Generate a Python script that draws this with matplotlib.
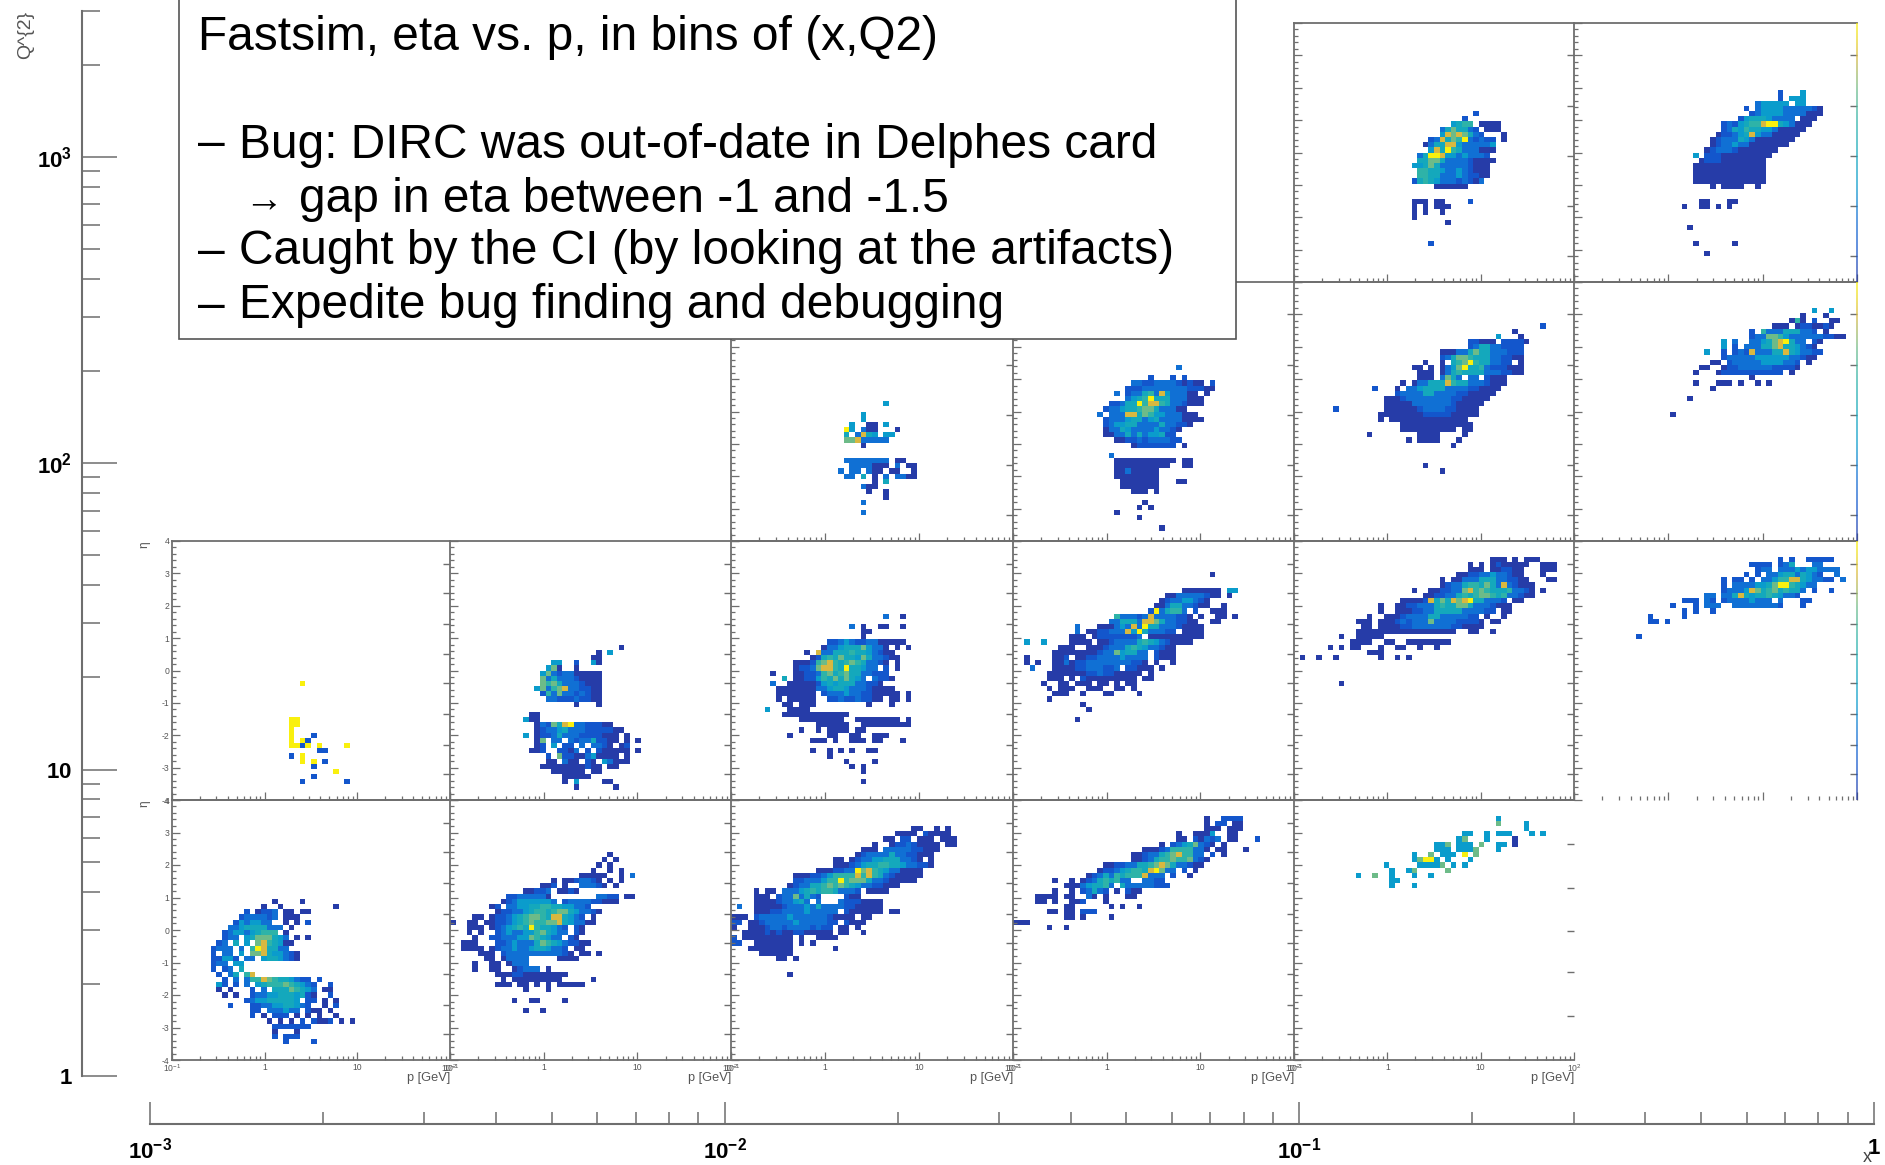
import numpy as np
import matplotlib
matplotlib.use("Agg")
import matplotlib.pyplot as plt
from matplotlib.colors import ListedColormap, BoundaryNorm, LinearSegmentedColormap
from matplotlib.patches import Rectangle
from matplotlib.ticker import FixedLocator, FixedFormatter, NullFormatter

plt.rcParams['font.family'] = ['Liberation Sans', 'DejaVu Sans']
plt.rcParams['mathtext.fontset'] = 'custom'
plt.rcParams['mathtext.rm'] = 'Liberation Sans'
plt.rcParams['mathtext.bf'] = 'Liberation Sans:bold'

W, H = 1885, 1165

# ---- cell data: "row startcol levels" (row from top of 50, col from left of 50, level 1-9, '.' empty)
R0C4 = ["17 32 2", "18 30 2", "19 28 4566.1111", "20 26 3575532.111", "21 26 48787532...1",
        "22 24 238576932322.1", "23 23 1355884333334", "24 24 485965333111", "25 22 3599844343332",
        "26 22 55775333321111", "27 21 44575333332111", "28 22 6655433432111", "29 22 6655333432211",
        "30 21 2565433323213", "31 25 111111", "34 21 111.11....2", "35 21 1.1.111", "36 21 1.1..1", "37 21 1",
        "38 27 1", "42 24 2"]
R0C5 = ["13 36 2...4", "14 36 2.444", "15 32 344444.44", "16 30 2.344443333321", "17 31 2344443333111",
        "18 29 2455543333.111", "19 26 2324566899543111", "20 26 235465544311111", "21 25 122345843311111",
        "22 24 123335431111111", "23 24 12334331111111", "24 23 1233321111111", "25 21 4.222111111111",
        "26 22 122211111111", "27 21 1111111111111", "28 21 1111111111111", "29 21 1111111111111",
        "30 21 1111111111111", "31 24 1.1111..1", "34 22 11...11", "35 19 1..11.1.1", "39 20 1", "42 21 1......1",
        "44 23 1"]
R1C2 = ["23 27 4", "25 23 4", "26 23 4", "27 21 4..11.4", "28 20 94.311...1", "29 20 5.3854.44", "30 20 77833333",
        "31 23 1", "34 20 33333333.11", "35 20 .3333111.3.11", "36 19 3.33.311.11..1", "37 20 33.5.1.3.3311",
        "38 25 1.5", "39 23 311", "40 24 1..1", "41 27 1", "42 23 3", "44 23 3"]
R1C3 = ["16 29 3", "18 24 2...2.2", "19 21 3322333321211.2", "20 20 2223333333322211", "21 18 3.2335638433311 1",
        "22 20 34569555333111", "23 17 22355968865332111", "24 16 233455677533311", "25 15 3.3338857644333111",
        "26 16 233345534533331111", "27 16 2344553333533221", "28 16 13354333343321", "29 16 1133535344522",
        "30 18 112232333322", "31 21 12222222.1", "33 17 3", "34 18 11111111111.11", "35 18 1111111111..11",
        "36 18 11311111", "37 18 11111111", "38 19 1111111...11", "39 19 1111111", "40 21 111.1", "42 23 1",
        "43 22 1.1", "44 18 1", "45 22 1", "47 26 1"]
R1C4 = ["8 44 2", "9 39 1", "10 36 4...1", "11 31 22111.22221", "12 31 2355332222", "13 26 111335755333222",
        "14 26 235776555332211", "15 23 1..1.56796553322 1", "16 21 11.1.134795563222111", "17 22 111.135655553332211",
        "18 22 111.3753 33.2111", "19 19 1.13355586553332111", "20 14 2...1.33455553333221111",
        "21 18 233335533332211111", "22 16 1112333333332211111", "23 16 111113333333211111",
        "24 7 2........11111123333221111", "25 15 111111112222211111", "26 15 1.11111111111111",
        "27 19 1111111111111", "28 19 1111111111.11", "29 13 1........1111....1", "30 20 1.1111...1", "31 28 1", "35 23 1",
        "36 26 1"]
R1C5 = ["5 42 4..4", "6 40 1...1", "7 38 161.2..11", "8 35 111.1221121", "9 31 2.6333555332 1", "10 31 23377643333332211",
        "11 26 4.3..3345789533 21", "12 26 4.2.3335578554321", "13 23 4..2.2328333558543322", "14 26 23333344444433211",
        "15 24 11.2333334444332 1", "16 22 11..12233333322221", "17 21 1...122222222222 1", "18 31 1",
        "19 21 1...111.1..1.1", "20 24 1", "22 20 1", "25 17 1"]
R2C0 = ["27 23 9", "34 21 99", "35 21 99", "36 21 9", "37 21 9...2", "38 21 9.92", "39 21 9929.9....9", "40 26 22", "41 21 2.9",
        "42 23 9.9.2", "43 25 2", "44 29 9", "45 25 2", "46 23 2.......2"]
R2C1 = ["20 30 1", "21 26 1.4", "22 25 11", "23 18 44..2..41", "24 17 471..1", "25 16 47323311111", "26 16 73533321111",
        "27 16 76753332111", "28 15 473678332211", "29 16 26373323211", "30 17 3322232211", "31 22 1...1", "33 14 11",
        "34 13 411", "35 15 13275893322211", "36 15 1233453332222211", "37 13 4.122353332222111.1", "38 15 17 33.323352211 1.1",
        "39 15 12.4.22.3.3321 12", "40 14 112..2213 2.211111 1", "41 16 .2.72211341111 1", "42 15 ..11.311 21.43111",
        "43 16 11111111211.11", "44 18 111111.11", "45 20 11111", "46 20 1.4....11", "47 22 1......1"]
R2C2 = ["14 27 3..1", "16 21 3.1..11..1", "17 23 11", "18 23 1", "19 17 22343223311111", "20 16 133455574331 1.1",
        "21 13 1.83355565543211", "22 14 1256575547533211", "23 11 11126786567653321.1", "24 11 122378865955433 2.1",
        "25 7 1...11223675675533222", "26 9 5.1122465757543 3221", "27 7 3..11111245455533221", "28 8 111111133455433321111",
        "29 8 1111111.23334332211111 1", "30 8 1.11111..2232232211 11.1", "31 9 11.111.........1...1",
        "32 6 4...1111", "33 9 111111111111", "34 12 11111111..11111111.1", "35 15 111111..111111111", "36 11 .1..1.1111.11",
        "37 10 1......11..11..111", "38 14 111.1..111.11...1", "40 14 1..1.1.1..11", "41 17 1", "42 20 1....1", "43 21 1.1",
        "44 23 1", "46 23 1"]
R2C3 = ["6 35 1", "9 30 1111111.44", "10 27 1133333211.1", "11 26 123344321", "12 25 1135533211..1",
        "13 24 2935663 2..111", "14 18 63332383333221 1..11.1", "15 17 3355538875332211..11",
        "16 11 3...1113438395533321111", "17 11 3.1122333849533322 1111", "18 10 111.122222223.1111111111",
        "19 2 4..4....1111.11233335654321111", "20 8 111..1112333565433211", "21 7 11111111233745533 2111",
        "22 2 1....112 1122333343333 2111", "23 2 1.1..11312233333333221 1..1", "24 3 3...111122333223 22111 1",
        "25 6 11111112232211111 1", "26 6 111.1.2111111111 11", "27 5 1..11.111.11.1.11", "28 6 1.111..111..11.1",
        "29 7 111..1...11....1", "30 6 1", "31 12 1", "32 13 1", "34 11 1"]
R2C4 = ["3 35 111.1.111", "4 31 1.1.1211111..111", "5 31 111.112211...111", "6 29 112233433211...1",
        "7 26 1.11333555332211...11", "8 26 12335665753832111", "9 21 1..1122337867655563321 1",
        "10 23 11223356567765633211", "11 19 1111285758789553332 11", "12 15 1..112233356557753332111",
        "13 15 1..111223355555333322 11", "14 13 1..11123333553333322 1..1", "15 11 111.1112323337333322221 11",
        "16 12 11.1111223333333221111", "17 11 111111111111111111..11..1", "18 8 1..11111", "19 10 1111..11..11111111",
        "20 6 1.1.11...1..11..1..1", "21 13 111", "22 1 1..1..1.......1..1.1", "27 8 1"]
R2C5 = ["3 36 2.2..22222", "4 31 2222.235...33", "5 32 233.33343443333", "6 30 2.2.3345535432..3", "7 26 2.22.2.3346688543322 3",
        "8 26 2.333344579965433", "9 26 233348756756553 2..2", "10 23 33.33585455654332", "11 19 222.32.233334333 3...22",
        "12 17 2...2.333..333333332...2", "13 19 2.2..2", "14 13 2.....2", "15 13 22.2", "18 11 2"]
R3C0 = ["19 18 1....1", "20 16 1..1.........1", "21 13 2.1223.11.11", "22 12 2333323.111", "23 11 2434433..1.1.2",
        "24 10 3345555333.1", "25 9 2344345666.1", "26 9 233.45777543.1.1", "27 8 23.5.4.7865411", "28 7 2333.3.6985533",
        "29 7 2.33.4.778544321", "30 7 22442.33.4554321", "31 7 233.44", "32 7 2.23.5", "33 8 2.35.68",
        "34 9 2.3.366876554322.2", "35 8 42.2.3.45666765432..2", "36 8 1.1...2.3.55576543.11", "37 9 1.1..233445554521..2",
        "38 13 2344555554.22.1.1", "39 10 2...22334455432..1.2", "40 14 22.333433.211.1", "41 14 2.1.222.1.1.1..1",
        "42 17 1.1.1.2.2112.1.1", "43 18 2222222", "44 18 1...1", "45 18 2.222", "46 20 2....2"]
R3C1 = ["10 28 1", "11 27 1.1", "12 26 1.1", "13 25 1..1.1", "14 23 11111..1.3", "15 18 1.1123321.1.1",
        "16 16 112.1..33321.1", "17 13 11223.1121", "18 10 22333331........3322 11",
        "19 9 1234444443.2333322111", "20 7 12.334455665544332", "21 8 1223345665677543321", "22 4 11.12234567765885432.1",
        "23 0 1..11.11223456766778543311", "24 3 111.12345659655432 21", "25 3 1.1..2343344675433 21", "26 4 1..2233344765433 21",
        "27 2 111...22343335765432211", "28 2 1111.12334334554332 11", "29 5 111.2333333333321 11.1",
        "30 6 11.13333.....1111", "31 4 1..11.1333", "32 4 1..11..12333 1", "33 8 1112211111111", "34 9 1.111111111.....1",
        "35 8 111.11.1.1.11111", "36 13 1...1", "38 11 1..11....1", "40 13 1..1"]
R3C2 = ["5 32 11..1.1", "6 29 1111.21111", "7 27 11.22.111.111", "8 25 1..122321111 11", "9 23 111.3333322111",
        "10 22 12333353322111", "11 18 11.1233445553321 1", "12 18 111234556655433221", "13 15 1112233978654331111",
        "14 11 11122346666868653211111", "15 11 2233346696777533211111", "16 10 12335567676543322111",
        "17 4 1.11.33345656653332 1111", "18 4 111.23373532....211", "19 4 1111233453.3...32221111",
        "20 1 3..11111233343533332211111", "21 4 111223333433333 2111111 11", "22 0 111.233333433333321111 11",
        "23 0 22.1123333343333322 2111", "24 0 1..111233233332322 11.1", "25 2 1111212112211111.11..1",
        "26 0 2.111111111.1..1111", "27 0 22..1111111.1.1", "28 3 11111111.......1", "29 5 111111", "30 8 11.1", "33 10 1"]
R3C3 = ["3 34 1..2222", "4 34 1.22.11", "5 34 111.111", "6 29 1..1114..11", "7 29 11.21323.11...2", "8 26 1.23457321.1",
        "9 23 111236666331 11...1", "10 21 1123356786633 2.1", "11 21 11235667667321", "12 16 112233556787533211",
        "13 15 12234566589733 2.1", "14 13 12353656668333 2..1", "15 7 1..1.123565633..3322", "16 9 111345563.533333222",
        "17 7 1..1.23532 1.211", "18 4 1111.11..31.1...11", "19 4 11.1..112...1", "20 9 11......1.1..1", "21 6 11.11.222",
        "22 9 11.1....1", "23 0 111", "24 6 1..1"]
R3C4 = ["3 36 4", "4 36 7....4", "5 41 4", "6 30 44..4.444...4.4", "7 29 47...4....1", "8 25 447.444.7..44.1",
        "9 25 444.4447...4", "10 21 4..7.444.9.7", "11 21 47994.4...4", "12 16 4.....44447 4.4", "13 17 4..47.....7",
        "14 11 4..7..4...4..4", "15 17 44", "16 17 4...4"]

PANELS = {(0, 4): R0C4, (0, 5): R0C5, (1, 2): R1C2, (1, 3): R1C3, (1, 4): R1C4, (1, 5): R1C5,
          (2, 0): R2C0, (2, 1): R2C1, (2, 2): R2C2, (2, 3): R2C3, (2, 4): R2C4, (2, 5): R2C5,
          (3, 0): R3C0, (3, 1): R3C1, (3, 2): R3C2, (3, 3): R3C3, (3, 4): R3C4}

# colours / scale
LEVEL_COLORS = ["#263ca8", "#1356cc", "#1070d4", "#0a9ccc", "#14a8bc", "#2eb3a8", "#6dbb88", "#d8b840", "#f9f00e"]

ETA_MAJOR = [-4, -3, -2, -1, 0, 1, 2, 3, 4]
ETA_LABELS = ["-4", "-3", "-2", "-1", "0", "1", "2", "3", "4"]
P_MAJOR = [0.1, 1, 10, 100]
P_LABELS = [r"$\mathregular{10^{-1}}$", "1", "10", r"$\mathregular{10^{2}}$"]
STUBS_FINE = [-3.2, -2.3, -1.35, -0.4, 0.5, 1.45, 2.4, 3.3]
STUBS_COARSE = [-3.2, -1.65, -0.1, 1.45, 3.0]
STUBS_LAST = [-2.65, -1.3, -0.03, 1.3, 2.65]

Q_MAJOR = [1, 10, 100, 1000]
Q_LABELS = [r"$\mathbf{1}$", r"$\mathbf{10}$", r"$\mathbf{10^{2}}$", r"$\mathbf{10^{3}}$"]
X_MAJOR = [1e-3, 1e-2, 1e-1, 1]
X_LABELS = [r"$\mathbf{10^{-3}}$", r"$\mathbf{10^{-2}}$", r"$\mathbf{10^{-1}}$", r"$\mathbf{1}$"]

COL_EDGES = [172, 450, 731, 1013, 1294, 1574, 1857]
ROW_EDGES = [23, 282, 541, 800, 1060]

GRID = "#6e6e6e"
cmap = ListedColormap(LEVEL_COLORS)
cmap.set_bad((1, 1, 1, 0))
norm = BoundaryNorm(np.arange(0.5, 10.5, 1), cmap.N)
p_edges = np.logspace(-1, 2, 51)
eta_edges = np.linspace(-4, 4, 51)
p_minor = [m * d for d in (0.1, 1, 10) for m in range(2, 10)]
eta_minor = np.arange(-4, 4.01, 0.2)


def px_axes(x0, y0, x1, y1, **kw):
    return fig.add_axes([x0 / W, 1 - y1 / H, (x1 - x0) / W, (y1 - y0) / H], **kw)


def grid_of(rows):
    g = np.full((50, 50), np.nan)
    for line in rows:
        parts = line.split(" ", 2)
        r, c, s = int(parts[0]), int(parts[1]), parts[2]
        for i, ch in enumerate(s):
            if ch.isdigit() and c + i < 50:
                g[49 - r, c + i] = int(ch)
    return g


fig = plt.figure(figsize=(W / 100, H / 100), dpi=100, facecolor="white")

for (r, c), rows in PANELS.items():
    ax = px_axes(COL_EDGES[c], ROW_EDGES[r], COL_EDGES[c + 1], ROW_EDGES[r + 1])
    ax.patch.set_alpha(0)
    ax.set_xscale("log")
    ax.pcolormesh(p_edges, eta_edges, np.ma.masked_invalid(grid_of(rows)), cmap=cmap, norm=norm,
                  linewidth=0, rasterized=True)
    ax.set_xlim(0.1, 100)
    ax.set_ylim(-4, 4)
    for s in ax.spines.values():
        s.set_color(GRID)
        s.set_linewidth(1.3)
    ax.spines["right"].set_visible(False)
    if (r, c) == (2, 5):
        ax.spines["bottom"].set_visible(False)
    ax.xaxis.set_major_locator(FixedLocator(P_MAJOR))
    ax.xaxis.set_minor_locator(FixedLocator(p_minor))
    ax.yaxis.set_major_locator(FixedLocator(ETA_MAJOR))
    ax.yaxis.set_minor_locator(FixedLocator(eta_minor))
    ax.tick_params(which="major", direction="in", length=5.5, width=0.9, color=GRID,
                   labelsize=6.2, labelcolor="#555555", pad=2)
    ax.tick_params(which="minor", direction="in", length=2.8, width=0.9, color=GRID)
    ax.xaxis.set_minor_formatter(NullFormatter())
    ax.yaxis.set_minor_formatter(NullFormatter())
    if r == 3:
        ax.xaxis.set_major_formatter(FixedFormatter(P_LABELS))
        ax.text(1, -0.07, "p [GeV]", transform=ax.transAxes, ha="right", va="center", fontsize=9.2, color="#555555")
    else:
        ax.xaxis.set_major_formatter(NullFormatter())
    if c == 0:
        ax.yaxis.set_major_formatter(FixedFormatter(ETA_LABELS))
        ax.text(-0.098, 0.985, "η", transform=ax.transAxes, rotation=90, ha="center", va="center",
                fontsize=8.5, color="#555555")
    else:
        ax.yaxis.set_major_formatter(NullFormatter())
    stubs = STUBS_LAST if (r, c) == (3, 4) else (STUBS_COARSE if r < 2 else STUBS_FINE)
    ax.hlines(stubs, 0.976, 1, transform=ax.get_yaxis_transform(), color=GRID, lw=1.0, clip_on=False)

# colour palette slivers at the right edge
for r in range(3):
    pal = px_axes(1856, ROW_EDGES[r], 1858, ROW_EDGES[r + 1])
    strip = LinearSegmentedColormap.from_list("strip", LEVEL_COLORS)
    pal.imshow(np.linspace(1, 0, 64)[:, None], aspect="auto", cmap=strip, alpha=0.65)
    pal.axis("off")

# global Q2 axis
qax = px_axes(82, 10.7, 100, 1076)
qax.patch.set_alpha(0)
qax.set_yscale("log")
qax.set_ylim(1, 3000)
qax.set_xticks([])
for k in ("top", "right", "bottom"):
    qax.spines[k].set_visible(False)
qax.spines["left"].set_color(GRID)
qax.spines["left"].set_linewidth(1.5)
qax.yaxis.set_major_locator(FixedLocator(Q_MAJOR))
qax.yaxis.set_major_formatter(FixedFormatter(Q_LABELS))
qax.yaxis.set_minor_locator(FixedLocator([m * d for d in (1, 10, 100, 1000) for m in range(2, 10)]))
qax.yaxis.set_minor_formatter(NullFormatter())
qax.tick_params(which="major", direction="in", length=25, width=1.1, color=GRID, labelsize=16, pad=7)
qax.tick_params(which="minor", direction="in", length=13, width=1.1, color=GRID)

# global x axis
xax = px_axes(150, 1100, 1874, 1124)
xax.patch.set_alpha(0)
xax.set_xscale("log")
xax.set_xlim(1e-3, 1)
xax.set_yticks([])
for k in ("top", "right", "left"):
    xax.spines[k].set_visible(False)
xax.spines["bottom"].set_color(GRID)
xax.spines["bottom"].set_linewidth(1.5)
xax.xaxis.set_major_locator(FixedLocator(X_MAJOR))
xax.xaxis.set_major_formatter(FixedFormatter(X_LABELS))
xax.xaxis.set_minor_locator(FixedLocator([m * d for d in (1e-3, 1e-2, 1e-1) for m in range(2, 10)]))
xax.xaxis.set_minor_formatter(NullFormatter())
xax.tick_params(which="major", direction="in", length=16, width=1.1, color=GRID, labelsize=16, pad=10)
xax.tick_params(which="minor", direction="in", length=8.5, width=1.1, color=GRID)

fig.text(26 / W, 1 - 35 / H, "Q^{2}", rotation=90, ha="center", va="center", fontsize=14, color="#555555")
fig.text(1867 / W, 1 - 1158 / H, "x", ha="center", va="center", fontsize=13, color="#444444")

# annotation box on top of everything
fig.add_artist(Rectangle((179 / W, 1 - 339 / H), 1057 / W, 345 / H, transform=fig.transFigure,
                         facecolor="white", edgecolor="#555555", linewidth=1.2, zorder=10))
BOX_SIZE = 34.5
BOX_LINES = [(198, 37, "Fastsim, eta vs. p, in bins of (x,Q2)", BOX_SIZE),
             (198, 145, "–", BOX_SIZE), (239, 145, "Bug: DIRC was out-of-date in Delphes card", BOX_SIZE),
             (244, 202, "→", 28), (299, 199, "gap in eta between -1 and -1.5", BOX_SIZE),
             (198, 252, "–", BOX_SIZE), (239, 252, "Caught by the CI (by looking at the artifacts)", BOX_SIZE),
             (198, 306, "–", BOX_SIZE), (239, 306, "Expedite bug finding and debugging", BOX_SIZE)]
for x, y, s, size in BOX_LINES:
    fig.text(x / W, 1 - y / H, s, ha="left", va="center", fontsize=size, color="black", zorder=11)

fig.savefig("out.png", dpi=100, facecolor="white")
